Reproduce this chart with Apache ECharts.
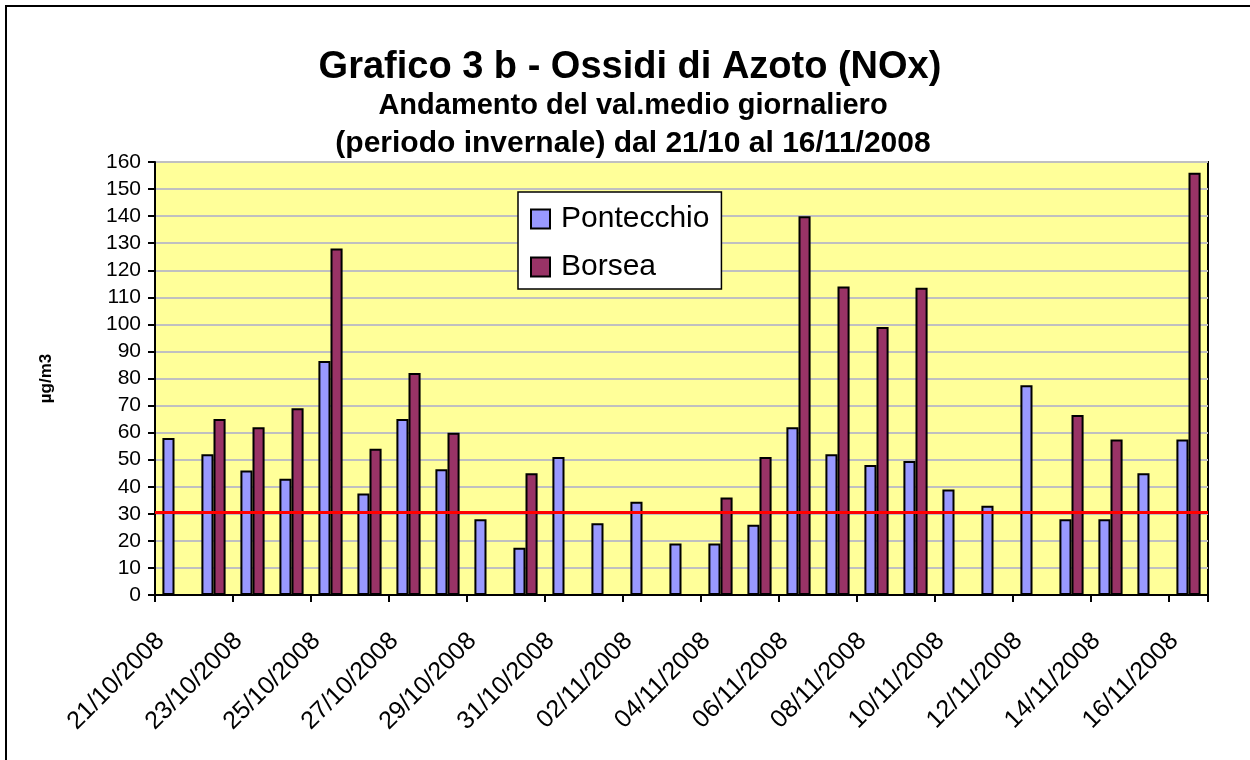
<!DOCTYPE html>
<html>
<head>
<meta charset="utf-8">
<script src="https://cdn.jsdelivr.net/npm/echarts@6/dist/echarts.min.js"></script>
<style>
html,body{margin:0;padding:0;background:#fff;}
#chart{width:1250px;height:760px;}
</style>
</head>
<body>
<div id="chart"></div>
<script>
const categories = ['21/10/2008','22/10/2008','23/10/2008','24/10/2008','25/10/2008','26/10/2008','27/10/2008','28/10/2008','29/10/2008','30/10/2008','31/10/2008','01/11/2008','02/11/2008','03/11/2008','04/11/2008','05/11/2008','06/11/2008','07/11/2008','08/11/2008','09/11/2008','10/11/2008','11/11/2008','12/11/2008','13/11/2008','14/11/2008','15/11/2008','16/11/2008'];
const pontecchio = [58,52,46,43,86.5,37.5,65,46.5,28,17.5,51,26.5,34.5,19,19,26,62,52,48,49.5,39,33,77.5,28,28,45,57.5];
const borsea = [null,65,62,69,128,54,82,60,null,45,null,null,null,null,36,51,140,114,99,113.5,null,null,null,66.5,57.5,null,156];
const limitValue = 30.5;
const titleText = 'Grafico 3 b - Ossidi di Azoto (NOx)';
const subtitle1 = 'Andamento del val.medio giornaliero';
const subtitle2 = '(periodo invernale) dal 21/10 al 16/11/2008';
const yAxisName = 'µg/m3';

const FONT = 'Arial, "Liberation Sans", sans-serif';
const chart = echarts.init(document.getElementById('chart'), null, {renderer:'canvas'});
chart.setOption({
  animation: false,
  backgroundColor: '#ffffff',
  textStyle: { fontFamily: FONT, color: '#000' },
  graphic: [
    { type:'rect', shape:{x:6, y:6, width:1300, height:800}, style:{fill:'none', stroke:'#000', lineWidth:2}, z:-1 },
    { type:'text', x:630, y:68, style:{ text:titleText, font:'bold 38px ' + FONT, fill:'#000', align:'center', verticalAlign:'middle' } },
    { type:'text', x:633, y:106, style:{ text:subtitle1, font:'bold 29px ' + FONT, fill:'#000', align:'center', verticalAlign:'middle' } },
    { type:'text', x:633, y:144, style:{ text:subtitle2, font:'bold 30px ' + FONT, fill:'#000', align:'center', verticalAlign:'middle' } }
  ],
  legend: {
    orient: 'vertical',
    left: 518, top: 192,
    backgroundColor: '#fff',
    borderColor: '#000', borderWidth: 1.5,
    padding: [11, 12, 6, 12],
    itemWidth: 19, itemHeight: 19, itemGap: 16,
    icon: 'rect',
    textStyle: { fontSize: 30, lineHeight: 32, color:'#000', fontFamily: FONT, padding:[0,0,0,6] },
    data: ['Pontecchio','Borsea']
  },
  grid: {
    left: 155, top: 162, width: 1053, height: 433,
    show: true, backgroundColor: '#FFFF99', borderColor: '#000', borderWidth: 2,
    containLabel: false
  },
  xAxis: {
    type: 'category',
    data: categories,
    boundaryGap: true,
    axisLine: { lineStyle: { color:'#000', width:2 } },
    axisTick: { show:true, interval:1, length:7, lineStyle:{ color:'#000', width:2 } },
    axisLabel: { interval:1, rotate:45, fontSize:25, color:'#000', margin:28, padding:[0,20,0,0], fontFamily: FONT }
  },
  yAxis: {
    type: 'value',
    min: 0, max: 160, interval: 10,
    name: yAxisName,
    nameLocation: 'middle',
    nameRotate: 90,
    nameGap: 100,
    nameTextStyle: { fontSize:17, fontWeight:'bold', color:'#000', fontFamily: FONT },
    axisLine: { show:true, lineStyle: { color:'#000', width:2 } },
    axisTick: { show:true, length:7, lineStyle:{ color:'#000', width:2 } },
    axisLabel: { fontSize:21, color:'#000', margin:14, fontFamily: FONT },
    splitLine: { show:true, lineStyle: { color:'#C0C0C0', width:2 } }
  },
  series: [
    {
      name: 'Pontecchio', type: 'bar', data: pontecchio,
      barGap: '0%', barCategoryGap: '38%',
      itemStyle: { color:'#9999FF', borderColor:'#000', borderWidth:2 },
      markLine: {
        silent: true, symbol: 'none', label: { show:false },
        lineStyle: { color:'#FF0000', width:3, type:'solid' },
        data: [ { yAxis: limitValue } ]
      },
      z: 3
    },
    {
      name: 'Borsea', type: 'bar', data: borsea,
      barGap: '0%', barCategoryGap: '38%',
      itemStyle: { color:'#993366', borderColor:'#000', borderWidth:2 },
      z: 2
    }
  ]
});
</script>
</body>
</html>
